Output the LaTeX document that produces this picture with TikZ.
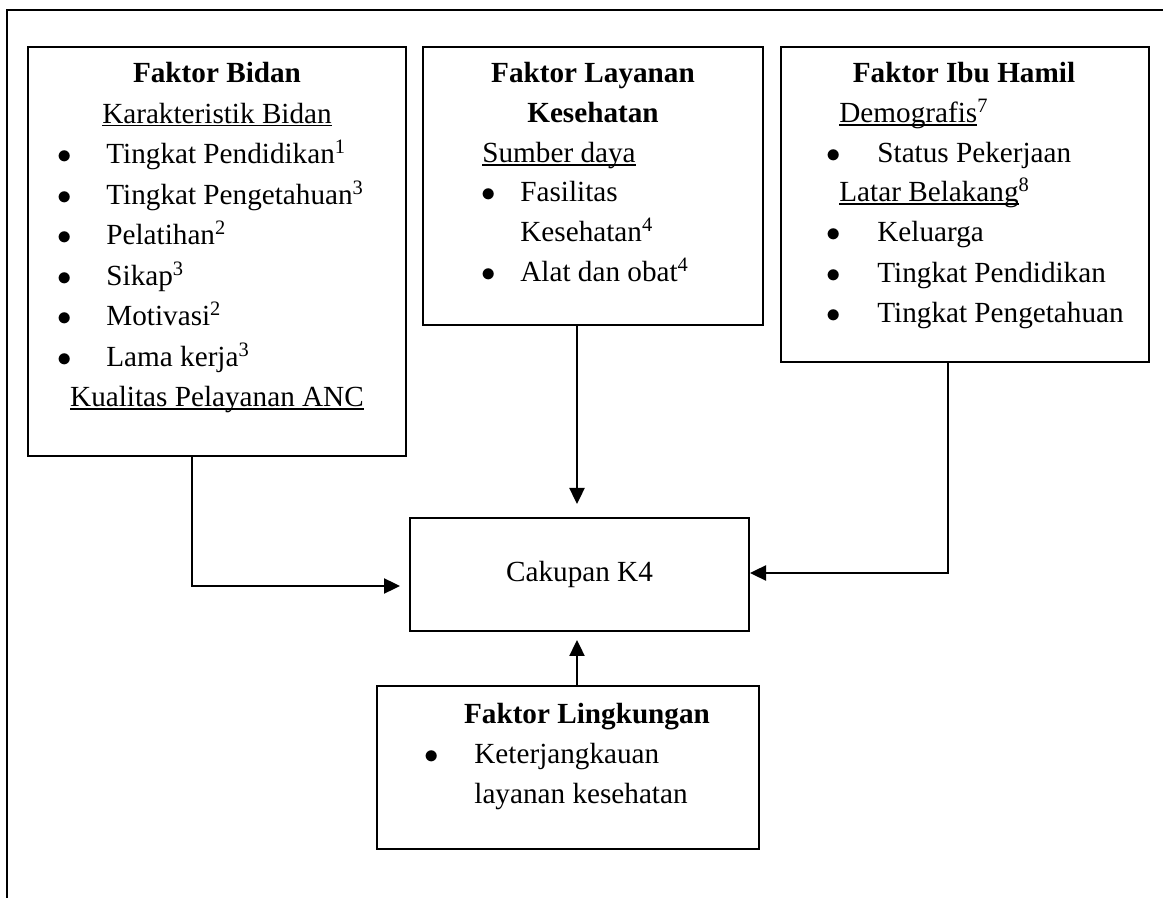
\documentclass[tikz,border=0pt]{standalone}
\usepackage{fontspec}
\setmainfont{Liberation Serif}
\usetikzlibrary{arrows.meta}
\newsavebox\gbbox
\newcommand{\gb}[1]{\sbox\gbbox{#1}\rlap{\rule[-1.5pt]{\wd\gbbox}{0.8pt}}\usebox\gbbox}
\newcommand{\titik}{$\bullet$}
\tikzset{
    kotak/.style={draw, line width=1pt, inner sep=0pt},
    baris/.style={anchor=base west, inner sep=0pt},
    tengah/.style={anchor=base, inner sep=0pt},
    judul/.style={tengah, font=\fontsize{14.6}{17}\selectfont\bfseries}
}
\begin{document}
\begin{tikzpicture}[x=0.5pt, y=-0.5pt, >={Triangle[length=8pt,width=7.5pt]},
    every node/.append style={font=\fontsize{14.6}{17}\selectfont}]
        \useasboundingbox (0,0) rectangle (1163,898);
        \draw[line width=1pt] (7,920)--(7,10)--(1180,10);
        % kotak-kotak
        \node[kotak, minimum width=189pt, minimum height=204.5pt] (bidan) at (217,251.5) {};
        \node[kotak, minimum width=170pt, minimum height=139pt] (layanan) at (593,186) {};
        \node[kotak, minimum width=184pt, minimum height=157.5pt] (ibu) at (965,204.5) {};
        \node[kotak, minimum width=169.5pt, minimum height=56.5pt] (cakupan) at (579.5,574.5) {Cakupan K4};
        \node[kotak, minimum width=191pt, minimum height=81.5pt] (lingkungan) at (568,767.5) {};
        % faktor bidan
        \node[judul] (bd-judul) at (217,83) {Faktor Bidan};
        \node[tengah] (bd-sub) at (217,123.5) {\gb{Karakteristik Bidan}};
        \foreach \y/\isi[ count=\i] in {164/Tingkat Pendidikan\textsuperscript{1},204.5/Tingkat Pengetahuan\textsuperscript{3},
            245/Pelatihan\textsuperscript{2},285.5/Sikap\textsuperscript{3},326/Motivasi\textsuperscript{2},366.5/Lama kerja\textsuperscript{3}}
            {
                \node[baris] (bd-t\i) at (57,\y) {\titik};
                \node[baris] (bd-\i) at (106,\y) {\isi};
            }
        \node[tengah] (bd-anc) at (217,407) {\gb{Kualitas Pelayanan ANC}};
        % faktor layanan kesehatan
        \node[judul] (ly-judul) at (593,83) {Faktor Layanan};
        \node[judul] (ly-judul2) at (593,123) {Kesehatan};
        \node[baris] (ly-sub) at (482,163) {\gb{Sumber daya}};
        \node[baris] (ly-t1) at (481,202) {\titik};
        \node[baris] (ly-1) at (520,202) {Fasilitas};
        \node[baris] (ly-1b) at (520,242) {Kesehatan\textsuperscript{4}};
        \node[baris] (ly-t2) at (481,282) {\titik};
        \node[baris] (ly-2) at (520,282) {Alat dan obat\textsuperscript{4}};
        % faktor ibu hamil
        \node[judul] (ib-judul) at (964,83) {Faktor Ibu Hamil};
        \node[baris] (ib-sub) at (839,123) {\gb{Demografis}\textsuperscript{7}};
        \node[baris] (ib-t1) at (826,163) {\titik};
        \node[baris] (ib-1) at (877,163) {Status Pekerjaan};
        \node[baris] (ib-sub2) at (839,202) {\gb{Latar Belakang}\textsuperscript{8}};
        \foreach \y/\isi[ count=\i] in {242/Keluarga,283/Tingkat Pendidikan,323/Tingkat Pengetahuan}
            {
                \node[baris] (ib-t\i) at (826,\y) {\titik};
                \node[baris] (ib-\i) at (877,\y) {\isi};
            }
        % faktor lingkungan
        \node[judul] (lk-judul) at (587,723) {Faktor Lingkungan};
        \node[baris] (lk-t1) at (424,763) {\titik};
        \node[baris] (lk-1) at (474,763) {Keterjangkauan};
        \node[baris] (lk-1b) at (474,803) {layanan kesehatan};
        % panah
        \coordinate (belokkiri) at (192,586);
        \coordinate (belokkanan) at (948,573);
        \coordinate (poros) at (577,0);
        \draw[->, line width=1.2pt, shorten >=4.5pt] (bidan.south -| belokkiri)--(belokkiri)--(cakupan.west |- belokkiri);
        \draw[->, line width=1.2pt] (ibu.south -| belokkanan)--(belokkanan)--(cakupan.east |- belokkanan);
        \draw[->, line width=1.2pt, shorten >=6.5pt] (layanan.south -| poros)--(cakupan.north -| poros);
        \draw[->, line width=1.2pt, shorten >=4pt] (lingkungan.north -| poros)--(cakupan.south -| poros);
    \end{tikzpicture}
\end{document}
